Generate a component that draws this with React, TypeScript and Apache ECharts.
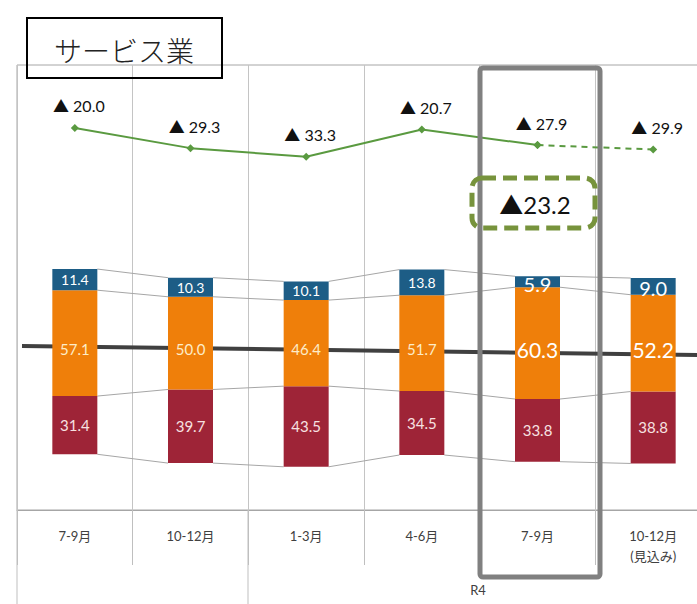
import React, { useEffect, useRef } from 'react';
import * as echarts from 'echarts';

const title = 'サービス業';
const categories = ['7-9月', '10-12月', '1-3月', '4-6月', '7-9月', '10-12月\n(見込み)'];
const decrease = [31.4, 39.7, 43.5, 34.5, 33.8, 38.8];
const unchanged = [57.1, 50.0, 46.4, 51.7, 60.3, 52.2];
const increase = [11.4, 10.3, 10.1, 13.8, 5.9, 9.0];
const diValues = [-20.0, -29.3, -33.3, -20.7, -27.9, -29.9];
const highlightValue = -23.2;
const groupLabel = 'R4';

const CENTER = 90;
const BAR_W = 45;
const FONT = "Lato, 'Noto Sans CJK JP', sans-serif";

const base = decrease.map((d, i) => CENTER - d - unchanged[i] / 2);
const fmt = (v: number) => Number(v).toFixed(1);
const tri = (v: number) => '▲ ' + Math.abs(v).toFixed(1);

export default function App() {
  const ref = useRef<HTMLDivElement>(null);
  useEffect(() => {
    const chart = echarts.init(ref.current as HTMLDivElement, undefined, { renderer: 'svg' });
    const levels = (k: number) => {
      const b = base[k];
      return [b, b + decrease[k], b + decrease[k] + unchanged[k], b + decrease[k] + unchanged[k] + increase[k]];
    };
    const lastIdx = categories.length - 1;
    const option: any = {
      animation: false,
      textStyle: { fontFamily: FONT },
      grid: { left: 17, top: 65, right: 0, bottom: 94, show: true, borderColor: '#a6a6a6', borderWidth: 1 },
      xAxis: {
        type: 'category',
        data: categories,
        boundaryGap: true,
        axisLine: { show: true, lineStyle: { color: '#a6a6a6', width: 1 } },
        axisTick: { show: true, length: 55, interval: 0, lineStyle: { color: '#bfbfbf' } },
        axisLabel: { interval: 0, margin: 16, fontSize: 13, lineHeight: 20, color: '#404040', fontFamily: FONT },
        splitLine: { show: true, interval: 0, lineStyle: { color: '#c4c4c4', width: 1 } },
      },
      yAxis: [
        { type: 'value', min: 0, max: 240, show: false },
        { type: 'value', min: -196, max: 9, show: false },
      ],
      series: [
        {
          type: 'bar', stack: 'b', barWidth: BAR_W, silent: true,
          itemStyle: { color: 'rgba(0,0,0,0)' },
          data: base,
        },
        {
          type: 'bar', stack: 'b', barWidth: BAR_W,
          itemStyle: { color: '#9e2437' },
          label: { show: true, position: 'inside', fontSize: 15, color: '#f7e1e1', formatter: (p: any) => fmt(p.value) },
          data: decrease,
        },
        {
          type: 'bar', stack: 'b', barWidth: BAR_W,
          itemStyle: { color: '#ef7f0a' },
          label: { show: true, position: 'inside', fontSize: 15, color: '#fdecc8', offset: [0, 6], formatter: (p: any) => fmt(typeof p.value === 'object' ? p.value.value : p.value) },
          data: unchanged.map((v, i) => (i >= 4 ? { value: v, label: { fontSize: 21, color: '#ffffff' } } : v)),
        },
        {
          type: 'bar', stack: 'b', barWidth: BAR_W,
          itemStyle: { color: '#1d5d86' },
          label: { show: true, position: 'inside', fontSize: 14, color: '#ffffff', formatter: (p: any) => fmt(p.value) },
          data: increase.map((v, i) => (i >= 4 ? { value: v, label: { fontSize: 20, offset: [0, 2] } } : v)),
        },
        {
          type: 'custom',
          silent: true,
          encode: { x: 0, y: 1 },
          data: categories.slice(0, -1).map((_, i) => [i, 0]),
          renderItem: (params: any, api: any) => {
            const i = api.value(0);
            if (i >= lastIdx) return null;
            const a = levels(i);
            const b = levels(i + 1);
            return {
              type: 'group',
              children: a.map((v, j) => {
                const p1 = api.coord([i, v]);
                const p2 = api.coord([i + 1, b[j]]);
                return {
                  type: 'line',
                  shape: { x1: p1[0] + BAR_W / 2, y1: p1[1], x2: p2[0] - BAR_W / 2, y2: p2[1] },
                  style: { stroke: '#a6a6a6', lineWidth: 1 },
                };
              }),
            };
          },
        },
        {
          type: 'line', yAxisIndex: 1,
          symbol: 'diamond', symbolSize: 8,
          itemStyle: { color: '#5a9a40' },
          lineStyle: { color: '#5a9a40', width: 2 },
          label: { show: true, position: 'top', distance: 10, offset: [4, 0], fontSize: 16, color: '#111', formatter: (p: any) => tri(p.value) },
          data: diValues.map((v, i) => (i < lastIdx ? v : null)),
          z: 5,
        },
        {
          type: 'line', yAxisIndex: 1,
          symbol: 'diamond', symbolSize: 8,
          itemStyle: { color: '#5a9a40' },
          lineStyle: { color: '#5a9a40', width: 2, type: [6, 5] },
          label: { show: true, position: 'top', distance: 10, offset: [4, 0], fontSize: 16, color: '#111', formatter: (p: any) => tri(p.value) },
          data: diValues.map((v, i) => (i === lastIdx ? v : i === lastIdx - 1 ? { value: v, label: { show: false } } : null)),
          z: 5,
        },
      ],
      graphic: [
        { type: 'line', z: 1, shape: { x1: 22, y1: 346, x2: 697, y2: 355 }, style: { stroke: '#404040', lineWidth: 4 } },
        { type: 'line', z: 1, shape: { x1: 17, y1: 510, x2: 17, y2: 604 }, style: { stroke: '#bfbfbf', lineWidth: 1 } },
        { type: 'line', z: 1, shape: { x1: 248, y1: 510, x2: 248, y2: 604 }, style: { stroke: '#bfbfbf', lineWidth: 1 } },
        { type: 'text', z: 10, x: 478, y: 590, style: { text: groupLabel, fontSize: 13, fill: '#404040', fontFamily: FONT, align: 'center', verticalAlign: 'middle' } },
        { type: 'rect', z: 10, shape: { x: 27, y: 18, width: 195, height: 60 }, style: { fill: 'none', stroke: '#000', lineWidth: 2 } },
        { type: 'text', z: 10, x: 124, y: 50, style: { text: title, fontSize: 28, fill: '#222', fontFamily: "'Noto Sans CJK JP', serif", fontWeight: 300, align: 'center', verticalAlign: 'middle' } },
        { type: 'rect', z: 10, shape: { x: 480, y: 68, width: 120, height: 509, r: 3 }, style: { fill: 'none', stroke: '#808080', lineWidth: 5 } },
        { type: 'rect', z: 11, shape: { x: 472, y: 178, width: 123, height: 50, r: 10 }, style: { fill: 'none', stroke: '#77933c', lineWidth: 5, lineDash: [14, 7] } },
        { type: 'text', z: 11, x: 535, y: 204, style: { text: '▲' + Math.abs(highlightValue).toFixed(1), fontSize: 24, fill: '#111', fontFamily: FONT, align: 'center', verticalAlign: 'middle' } },
      ],
    };
    chart.setOption(option);
    return () => chart.dispose();
  }, []);
  return (
    <div style={{ position: 'absolute', left: 0, top: 0, width: 697, height: 604, overflow: 'hidden' }}>
      <div ref={ref} style={{ position: 'absolute', left: 0, top: 0, width: 711, height: 604 }} />
    </div>
  );
}
